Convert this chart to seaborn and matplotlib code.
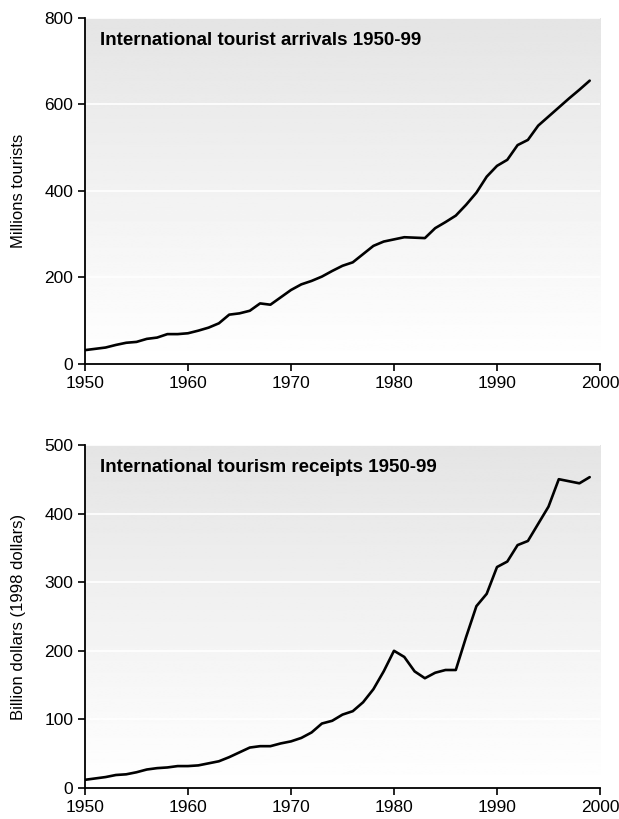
import matplotlib
matplotlib.use("Agg")
import matplotlib.pyplot as plt
import seaborn as sns
import numpy as np
import pandas as pd

# Data
years = list(range(1950, 2000))

arrivals = [32, 35, 38, 44, 49, 51, 58, 61, 69, 69,
            71, 77, 84, 94, 114, 117, 123, 140, 137, 154,
            171, 184, 192, 202, 215, 227, 235, 254, 273, 283,
            288, 293, 292, 291, 314, 328, 343, 368, 396, 433,
            458, 472, 506, 518, 551, 572, 593, 614, 634, 655]

receipts = [12, 14, 16, 19, 20, 23, 27, 29, 30, 32,
            32, 33, 36, 39, 45, 52, 59, 61, 61, 65,
            68, 73, 81, 94, 98, 107, 112, 125, 144, 170,
            200, 191, 170, 160, 168, 172, 172, 220, 265, 283,
            322, 330, 354, 360, 385, 410, 450, 447, 444, 453]

panels = [
    ("International tourist arrivals 1950-99", "Millions tourists", arrivals, 800, 200),
    ("International tourism receipts 1950-99", "Billion dollars (1998 dollars)", receipts, 500, 100),
]

sns.set_style("ticks")
plt.rcParams['font.family'] = ['Liberation Sans', 'DejaVu Sans']
plt.rcParams['text.color'] = 'black'
plt.rcParams['axes.labelcolor'] = 'black'
plt.rcParams['xtick.color'] = 'black'
plt.rcParams['ytick.color'] = 'black'

fig = plt.figure(figsize=(6.19, 8.19), dpi=100)
ax_top = fig.add_axes([0.1373, 0.5556, 0.832, 0.4225])
ax_bot = fig.add_axes([0.1373, 0.0378, 0.832, 0.419])

# vertical gradient, light grey at top fading to white at the bottom
grad = np.linspace(0.895, 1.0, 256).reshape(-1, 1)

for ax, (title, ylabel, vals, ymax, ystep) in zip([ax_top, ax_bot], panels):
    df = pd.DataFrame({"year": years, "value": vals})
    ax.imshow(grad, cmap="gray", vmin=0, vmax=1, aspect="auto", origin="upper",
              extent=[0, 1, 0, 1], transform=ax.transAxes, zorder=0)
    sns.lineplot(data=df, x="year", y="value", ax=ax, color="black",
                 linewidth=1.9, zorder=3)
    ax.set_xlim(1950, 2000)
    ax.set_ylim(0, ymax)
    ax.set_xticks([1950, 1960, 1970, 1980, 1990, 2000])
    ax.set_yticks(np.arange(0, ymax + 1, ystep))
    ax.grid(axis="y", color="white", linewidth=1.2, zorder=1)
    ax.set_axisbelow(False)
    ax.set_xlabel("")
    ax.set_ylabel(ylabel, fontsize=12)
    ax.tick_params(labelsize=12.5, length=5, width=1.2, color="black",
                   labelcolor="black", direction="out")
    for s in ["top", "right"]:
        ax.spines[s].set_visible(False)
    for s in ["left", "bottom"]:
        ax.spines[s].set_linewidth(1.3)
        ax.spines[s].set_color("black")
        ax.spines[s].set_zorder(4)
    ax.text(0.029, 0.935, title, transform=ax.transAxes, fontsize=13.5,
            fontweight="bold", va="center", ha="left", zorder=5)

for ax in [ax_top, ax_bot]:
    ax.yaxis.set_label_coords(-0.115, 0.5)

fig.savefig("out.png", dpi=100)
